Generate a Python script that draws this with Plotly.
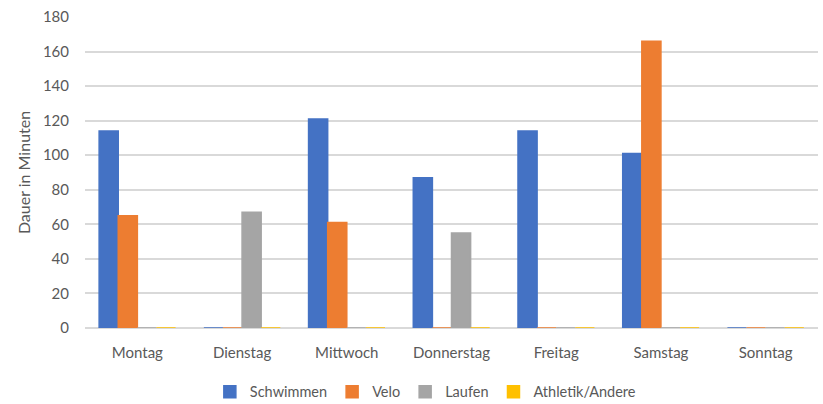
import plotly.graph_objects as go

days = ["Montag", "Dienstag", "Mittwoch", "Donnerstag", "Freitag", "Samstag", "Sonntag"]
schwimmen = [114, 0, 121, 87, 114, 101, 0]
velo = [65, 0, 61, 0, 0, 166, 0]
laufen = [0, 67, 0, 55, 0, 0, 0]
athletik = [0, 0, 0, 0, 0, 0, 0]

series = [
    ("Schwimmen", schwimmen, "#4472C4"),
    ("Velo", velo, "#ED7D31"),
    ("Laufen", laufen, "#A5A5A5"),
    ("Athletik/Andere", athletik, "#FFC000"),
]

fig = go.Figure()
for name, vals, col in series:
    fig.add_trace(go.Bar(
        x=days, y=vals, name=name,
        marker=dict(color=col, line=dict(color=col, width=1.5)),
    ))

font = "Lato, 'Liberation Sans', sans-serif"
fig.update_layout(
    width=823, height=404,
    margin=dict(l=85, r=5, t=17, b=76, autoexpand=False),
    paper_bgcolor="white", plot_bgcolor="white",
    barmode="group", bargap=0.27, bargroupgap=0,
    font=dict(family=font, size=15, color="#595959"),
    showlegend=True,
    legend=dict(orientation="h", x=0.465, xanchor="center",
                yref="container", y=0.03, yanchor="middle",
                font=dict(size=14.5, color="#595959"), itemwidth=30, traceorder="normal"),
    xaxis=dict(showgrid=False, showline=False, zeroline=False, ticks="",
               ticklabelstandoff=14, tickfont=dict(size=15, color="#595959")),
    yaxis=dict(range=[0, 180], dtick=20, showgrid=True, gridcolor="#D9D9D9", gridwidth=1.5,
               zeroline=True, zerolinecolor="#D9D9D9", zerolinewidth=1.5,
               showline=False, ticks="", ticklabelstandoff=15,
               tickfont=dict(size=15, color="#595959"),
               title=dict(text="Dauer in Minuten", font=dict(size=16, color="#595959"), standoff=8)),
)

fig.write_html("out.html")
